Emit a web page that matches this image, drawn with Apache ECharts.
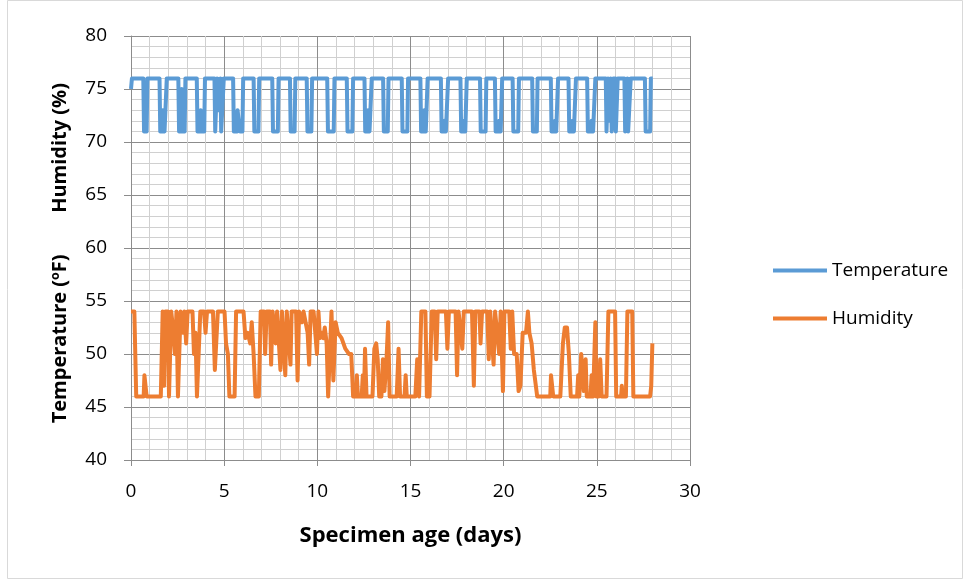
<!DOCTYPE html>
<html>
<head>
<meta charset="utf-8">
<title>Temperature and humidity</title>
<script src="https://cdn.jsdelivr.net/npm/echarts@6/dist/echarts.min.js"></script>
<style>
  html, body { margin: 0; padding: 0; background: #fff; }
  #chart { width: 964px; height: 580px; }
</style>
</head>
<body>
<div id="chart"></div>
<script>
// specimen age (days) vs reading
var temperature = [
  [0, 75], [0.05, 76], [0.66, 76], [0.7, 71], [0.84, 71], [0.88, 76],
  [1.53, 76], [1.57, 71], [1.68, 71], [1.7, 73], [1.78, 73], [1.8, 71], [1.88, 71], [1.92, 76],
  [2.54, 76], [2.58, 71], [2.7, 71], [2.72, 75], [2.76, 71], [2.88, 71], [2.92, 76],
  [3.53, 76], [3.57, 71], [3.72, 71], [3.74, 73], [3.8, 73], [3.82, 71], [3.93, 71], [3.97, 76],
  [4.48, 76], [4.52, 71], [4.6, 71], [4.62, 76], [4.66, 73], [4.78, 73], [4.8, 76], [4.84, 71], [4.94, 71], [4.98, 76],
  [5.48, 76], [5.52, 71], [5.7, 71], [5.72, 73], [5.82, 73], [5.84, 71], [5.98, 71], [6.02, 76],
  [6.58, 76], [6.62, 71], [6.84, 71], [6.88, 76],
  [7.58, 76], [7.62, 71], [7.88, 71], [7.92, 76],
  [8.53, 76], [8.57, 71], [8.78, 71], [8.82, 76],
  [9.43, 76], [9.47, 71], [9.68, 71], [9.72, 76],
  [10.53, 76], [10.57, 71], [10.88, 71], [10.92, 76],
  [11.58, 76], [11.62, 71], [11.88, 71], [11.92, 76],
  [12.53, 76], [12.57, 71], [12.7, 71], [12.72, 73], [12.78, 73], [12.8, 71], [12.88, 71], [12.92, 76],
  [13.53, 76], [13.57, 71], [13.78, 71], [13.82, 76],
  [14.53, 76], [14.57, 71], [14.83, 71], [14.87, 76],
  [15.53, 76], [15.57, 71], [15.72, 71], [15.74, 73], [15.8, 73], [15.82, 71], [15.88, 71], [15.92, 76],
  [16.63, 76], [16.67, 71], [16.8, 71], [16.82, 72], [16.88, 72], [16.9, 71], [16.98, 71], [17.02, 76],
  [17.68, 76], [17.72, 71], [17.84, 71], [17.86, 72], [17.92, 72], [17.94, 71], [17.98, 71], [18.02, 76],
  [18.73, 76], [18.77, 71], [19.03, 71], [19.07, 76],
  [19.53, 76], [19.57, 71], [19.74, 71], [19.76, 72], [19.82, 72], [19.84, 71], [19.88, 71], [19.92, 76],
  [20.48, 76], [20.52, 71], [20.78, 71], [20.82, 76],
  [21.53, 76], [21.57, 71], [21.78, 71], [21.82, 76],
  [22.53, 76], [22.57, 71], [22.74, 71], [22.76, 72], [22.8, 72], [22.82, 71], [22.88, 71], [22.92, 76],
  [23.48, 76], [23.52, 71], [23.68, 71], [23.7, 72], [23.75, 72], [23.77, 71], [23.84, 71], [23.88, 76],
  [24.48, 76], [24.52, 71], [24.7, 71], [24.72, 72], [24.78, 72], [24.8, 71], [24.88, 71], [24.92, 76],
  [25.48, 76], [25.52, 71], [25.58, 71], [25.6, 76], [25.64, 72], [25.7, 72], [25.74, 76], [25.8, 71], [25.84, 71], [25.88, 76],
  [26.0, 76], [26.02, 71], [26.08, 71], [26.12, 76],
  [26.48, 76], [26.52, 71], [26.62, 71], [26.64, 76], [26.68, 71], [26.78, 71], [26.82, 76],
  [27.58, 76], [27.62, 71], [27.86, 71], [27.9, 76], [28.0, 76]
]

var humidity = [
  [0, 54], [0.18, 54], [0.28, 46], [0.68, 46], [0.72, 48], [0.8, 48], [0.84, 46],
  [1.6, 46], [1.7, 54], [1.78, 47], [1.84, 54], [1.98, 54], [2.04, 46], [2.1, 46], [2.16, 54],
  [2.28, 52], [2.36, 50], [2.44, 54], [2.52, 46], [2.58, 46], [2.66, 54], [2.78, 52], [2.86, 54],
  [2.96, 51], [3.04, 54], [3.3, 54], [3.38, 50], [3.46, 52], [3.54, 46], [3.62, 46], [3.72, 54],
  [3.92, 54], [4.0, 52], [4.08, 54], [4.4, 54], [4.5, 48.5], [4.58, 48.5], [4.66, 54], [5.02, 54],
  [5.1, 51], [5.2, 50], [5.28, 46], [5.56, 46], [5.64, 54], [6.04, 54], [6.14, 51.5], [6.26, 52],
  [6.4, 51], [6.48, 53], [6.58, 50], [6.68, 46], [6.86, 46], [6.96, 54], [7.14, 54], [7.2, 50],
  [7.28, 54], [7.46, 54], [7.52, 49], [7.6, 54], [7.76, 51], [7.84, 54], [8.02, 48.5], [8.1, 54],
  [8.28, 48], [8.36, 54], [8.56, 49], [8.62, 54], [8.86, 54], [8.94, 47.5], [9.02, 54], [9.18, 53],
  [9.26, 54], [9.48, 52], [9.56, 49], [9.64, 54], [9.8, 54], [9.9, 54], [9.98, 50], [10.06, 54],
  [10.14, 51.5], [10.22, 52], [10.32, 51.5], [10.4, 52.5], [10.5, 51], [10.58, 46], [10.66, 46],
  [10.76, 54], [10.86, 47.5], [10.98, 53], [11.1, 52], [11.3, 51.5], [11.5, 50.5], [11.7, 50],
  [11.82, 50], [11.92, 46], [12.08, 46], [12.12, 48], [12.18, 46], [12.38, 46], [12.44, 48],
  [12.5, 46], [12.56, 50.5], [12.64, 46], [12.96, 46], [13.06, 50.5], [13.16, 51], [13.24, 49.5],
  [13.32, 46], [13.44, 46], [13.52, 49.5], [13.6, 46.5], [13.7, 49], [13.8, 53], [13.88, 46],
  [14.26, 46], [14.36, 50.5], [14.44, 46], [14.68, 46], [14.74, 48], [14.8, 46], [15.26, 46],
  [15.36, 49.5], [15.46, 46], [15.58, 54], [15.8, 54], [15.88, 46], [16.02, 46], [16.14, 54],
  [16.3, 54], [16.38, 49.5], [16.46, 54], [16.9, 54], [16.98, 50.5], [17.06, 54], [17.42, 54],
  [17.5, 48], [17.58, 54], [17.78, 50.5], [17.86, 54], [18.3, 54], [18.4, 47], [18.48, 54],
  [18.7, 54], [18.76, 51], [18.84, 54], [19.12, 54], [19.2, 49.5], [19.28, 54], [19.46, 49],
  [19.54, 54], [19.76, 50], [19.84, 54], [19.96, 46.5], [20.04, 54], [20.3, 54], [20.38, 50.5],
  [20.46, 54], [20.56, 50], [20.7, 50], [20.8, 46.5], [20.9, 47], [21.02, 52], [21.2, 52],
  [21.3, 54], [21.38, 52], [21.5, 51], [21.62, 48.5], [21.8, 46],
  [22.5, 46], [22.54, 48], [22.62, 48], [22.66, 46], [23.04, 46], [23.18, 51], [23.28, 52.5],
  [23.4, 52.5], [23.5, 50], [23.6, 46], [23.94, 46], [24.0, 48], [24.06, 46], [24.16, 50],
  [24.24, 48.5], [24.3, 46.5], [24.4, 49.5], [24.46, 46], [24.66, 46], [24.72, 48], [24.8, 46],
  [24.92, 53], [24.98, 46], [25.1, 46], [25.18, 49.5], [25.26, 46], [25.52, 46], [25.62, 54],
  [25.98, 54], [26.04, 46], [26.3, 46], [26.34, 47], [26.38, 46], [26.56, 46], [26.64, 54],
  [26.9, 54], [26.96, 46], [27.86, 46], [27.92, 47], [27.98, 51]
]

var seriesNames = ['Temperature', 'Humidity']
var xTitle = 'Specimen age (days)'
var yTitle = 'Temperature (ºF)        Humidity (%)  '

var chart = echarts.init(document.getElementById('chart'))
var font = '"Open Sans", "Liberation Sans", sans-serif'
var majorGrid = '#8c8c8c'
var minorGrid = '#d0d0d0'

var option = {
  backgroundColor: '#fff',
  animation: false,
  textStyle: { fontFamily: font, color: '#000' },
  graphic: [{
    type: 'rect',
    shape: { x: 7.5, y: 0.5, width: 955, height: 578 },
    style: { fill: 'none', stroke: '#d9d9d9', lineWidth: 1 },
    silent: true
  }],
  grid: {
    left: 131,
    right: 274,
    top: 36,
    bottom: 120,
    containLabel: false
  },
  legend: {
    orient: 'vertical',
    left: 773,
    top: 261,
    padding: 0,
    icon: 'rect',
    itemWidth: 54,
    itemHeight: 4,
    itemGap: 29,
    data: seriesNames,
    textStyle: { fontFamily: font, fontSize: 19, color: '#000' }
  },
  xAxis: {
    type: 'value',
    min: 0,
    max: 30,
    interval: 5,
    name: xTitle,
    nameLocation: 'middle',
    nameGap: 76,
    nameTextStyle: { fontFamily: font, fontSize: 22, fontWeight: 'bold', color: '#000', verticalAlign: 'middle' },
    axisLine: { show: true, onZero: false, lineStyle: { color: majorGrid, width: 1 } },
    axisTick: { show: true, length: 6, lineStyle: { color: majorGrid } },
    axisLabel: { margin: 22, fontFamily: font, fontSize: 19, color: '#000' },
    splitLine: { show: true, lineStyle: { color: majorGrid, width: 1 } },
    minorTick: { show: false, splitNumber: 5 },
    minorSplitLine: { show: true, lineStyle: { color: minorGrid, width: 1 } }
  },
  yAxis: {
    type: 'value',
    min: 40,
    max: 80,
    interval: 5,
    name: yTitle,
    nameLocation: 'middle',
    nameGap: 71,
    nameTextStyle: { fontFamily: font, fontSize: 20, fontWeight: 'bold', color: '#000', verticalAlign: 'middle' },
    axisLine: { show: true, lineStyle: { color: majorGrid, width: 1 } },
    axisTick: { show: true, length: 7, lineStyle: { color: majorGrid } },
    axisLabel: { margin: 24, fontFamily: font, fontSize: 19, color: '#000' },
    splitLine: { show: true, lineStyle: { color: majorGrid, width: 1 } },
    minorTick: { show: false, splitNumber: 5 },
    minorSplitLine: { show: true, lineStyle: { color: minorGrid, width: 1 } }
  },
  series: [
    {
      name: seriesNames[0],
      type: 'line',
      symbol: 'none',
      showSymbol: false,
      color: '#5b9bd5',
      lineStyle: { color: '#5b9bd5', width: 4, join: 'round' },
      data: temperature
    },
    {
      name: seriesNames[1],
      type: 'line',
      symbol: 'none',
      showSymbol: false,
      color: '#ed7d31',
      lineStyle: { color: '#ed7d31', width: 4, join: 'round' },
      data: humidity
    }
  ]
}

chart.setOption(option)
</script>
</body>
</html>
